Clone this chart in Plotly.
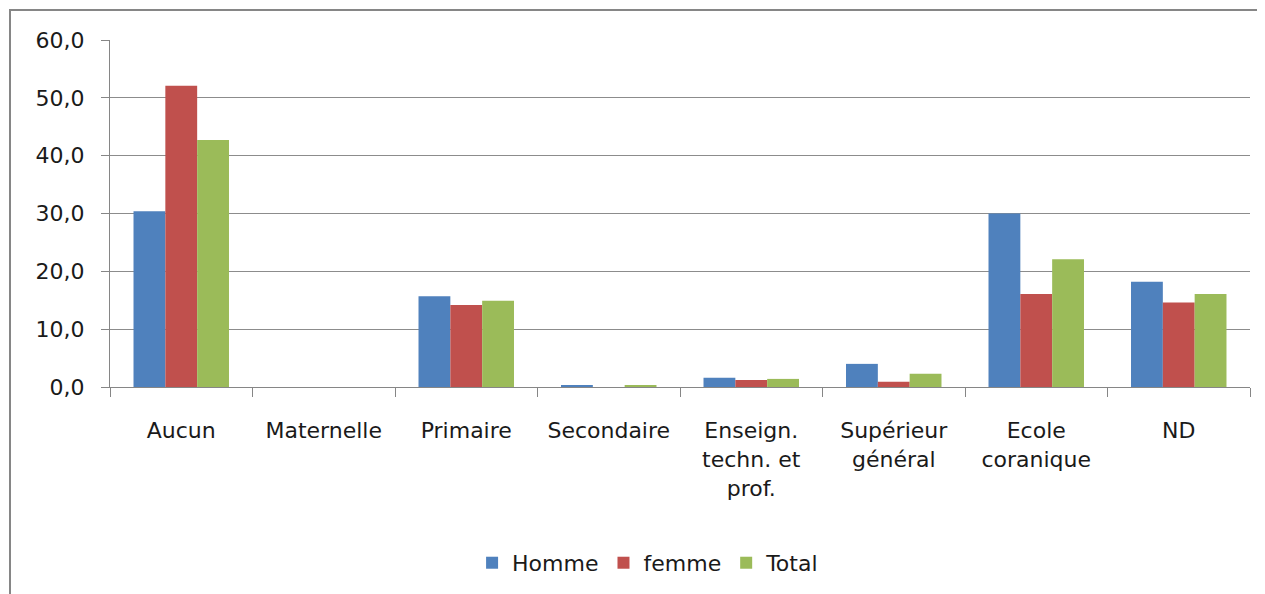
import plotly.graph_objects as go

categories = ["Aucun", "Maternelle", "Primaire", "Secondaire",
              "Enseign.<br>techn. et<br>prof.", "Supérieur<br>général",
              "Ecole<br>coranique", "ND"]
homme = [30.4, 0.0, 15.7, 0.3, 1.6, 4.0, 30.0, 18.2]
femme = [52.1, 0.0, 14.2, 0.0, 1.2, 0.9, 16.1, 14.6]
total = [42.7, 0.0, 14.9, 0.2, 1.4, 2.3, 22.1, 16.1]
y_ticks = [0, 10, 20, 30, 40, 50, 60]
y_tick_labels = ["0,0", "10,0", "20,0", "30,0", "40,0", "50,0", "60,0"]

series = [("Homme", homme, "#4F81BD"), ("femme", femme, "#C0504D"), ("Total", total, "#9BBB59")]

fig = go.Figure()
for name, vals, col in series:
    fig.add_trace(go.Bar(x=categories, y=vals, name=name, marker_color=col,
                         marker_line_width=0))

font_family = "DejaVu Sans"
fig.update_layout(
    width=1265, height=594,
    margin=dict(l=102, r=23, t=32, b=215),
    paper_bgcolor="white", plot_bgcolor="white",
    barmode="group", bargap=0.33, bargroupgap=0,
    font=dict(family=font_family, size=22, color="#1a1a1a"),
    legend=dict(orientation="h", x=0.472, y=-0.507, xanchor="center", yanchor="middle",
                font=dict(size=22), itemwidth=30, traceorder="normal"),
    showlegend=True,
)
fig.update_xaxes(showline=True, linecolor="#868686", linewidth=1,
                 ticks="outside", tickson="boundaries", ticklen=9, tickcolor="#868686",
                 showgrid=False, ticklabelstandoff=24)
fig.update_yaxes(range=[0, 60], tickvals=y_ticks, ticktext=y_tick_labels,
                 showline=True, linecolor="#868686", linewidth=1,
                 ticks="outside", ticklen=8, tickcolor="#868686",
                 showgrid=True, gridcolor="#8c8c8c", gridwidth=1, zeroline=False,
                 ticklabelstandoff=12)
fig.add_shape(type="rect", xref="paper", yref="paper",
              x0=(10 - 110) / 1140, x1=(1262 - 110) / 1140,
              y0=(387 - 620) / 347, y1=(387 - 10) / 347,
              line=dict(color="#868686", width=2), fillcolor="rgba(0,0,0,0)", layer="below")
fig.write_html("out.html")
